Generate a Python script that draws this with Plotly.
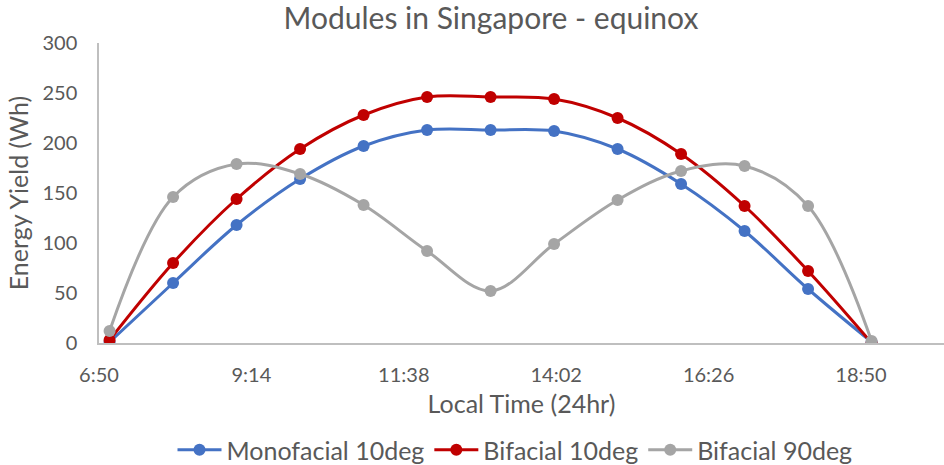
import pandas as pd
import plotly.graph_objects as go

# Hourly samples on the equinox day (local time)
times = ["7:00", "8:00", "9:00", "10:00", "11:00", "12:00", "13:00",
         "14:00", "15:00", "16:00", "17:00", "18:00", "19:00"]

monofacial_10deg = [1, 60, 118, 164, 197, 213, 213, 212, 194, 159, 112, 54, 1]
bifacial_10deg = [3, 80, 144, 194, 228, 246, 246, 244, 225, 189, 137, 72, 0]
bifacial_90deg = [12, 146, 179, 169, 138, 92, 52, 99, 143, 172, 177, 137, 2]

tick_labels = ["6:50", "9:14", "11:38", "14:02", "16:26", "18:50"]
x_start, x_end = "6:50", "20:08:25"

DAY = "2021-03-20 "


def stamp(t):
    return pd.Timestamp(DAY + t)


x = [stamp(t) for t in times]

series = [
    ("Monofacial 10deg", monofacial_10deg, "#4472C4"),
    ("Bifacial 10deg", bifacial_10deg, "#C00000"),
    ("Bifacial 90deg", bifacial_90deg, "#A5A5A5"),
]

FONT = "Lato"
TXT = "#595959"
AXIS = "#BFBFBF"

fig = go.Figure()
for name, ys, color in series:
    fig.add_trace(go.Scatter(
        x=x, y=ys, name=name, mode="lines+markers",
        line=dict(color=color, width=3, shape="spline", smoothing=1),
        marker=dict(color=color, size=12),
    ))

fig.update_layout(
    width=944, height=465,
    margin=dict(l=99, r=0, t=43, b=122, autoexpand=False),
    paper_bgcolor="white", plot_bgcolor="white",
    font=dict(family=FONT, color=TXT),
    title=dict(text="Modules in Singapore - equinox",
               font=dict(size=30, color=TXT, family=FONT),
               x=491 / 944, xref="container",
               xanchor="center", y=1 - 18 / 465, yanchor="middle"),
    xaxis=dict(
        type="date", automargin=False,
        range=[stamp(x_start), stamp(x_end)],
        tickvals=[stamp(t) for t in tick_labels],
        ticktext=tick_labels,
        tickfont=dict(size=20, color=TXT),
        ticks="", ticklabelstandoff=13,
        showgrid=False, zeroline=False,
        showline=True, linecolor=AXIS, linewidth=1.5,
        title=dict(text="Local Time (24hr)", font=dict(size=25, color=TXT),
                   standoff=11),
    ),
    yaxis=dict(
        automargin=False,
        range=[0, 300], tickvals=[0, 50, 100, 150, 200, 250, 300],
        tickfont=dict(size=20, color=TXT),
        ticks="", ticklabelstandoff=16,
        showgrid=False, zeroline=False,
        showline=True, linecolor=AXIS, linewidth=1.5,
        title=dict(text="Energy Yield (Wh)", font=dict(size=25, color=TXT),
                   standoff=7),
    ),
    legend=dict(orientation="h", xanchor="center", yanchor="middle",
                x=(515 - 99) / 845, y=(343 - 450) / 300,
                font=dict(size=25, color=TXT), itemwidth=44),
    showlegend=True,
)

fig.write_html("out.html")
